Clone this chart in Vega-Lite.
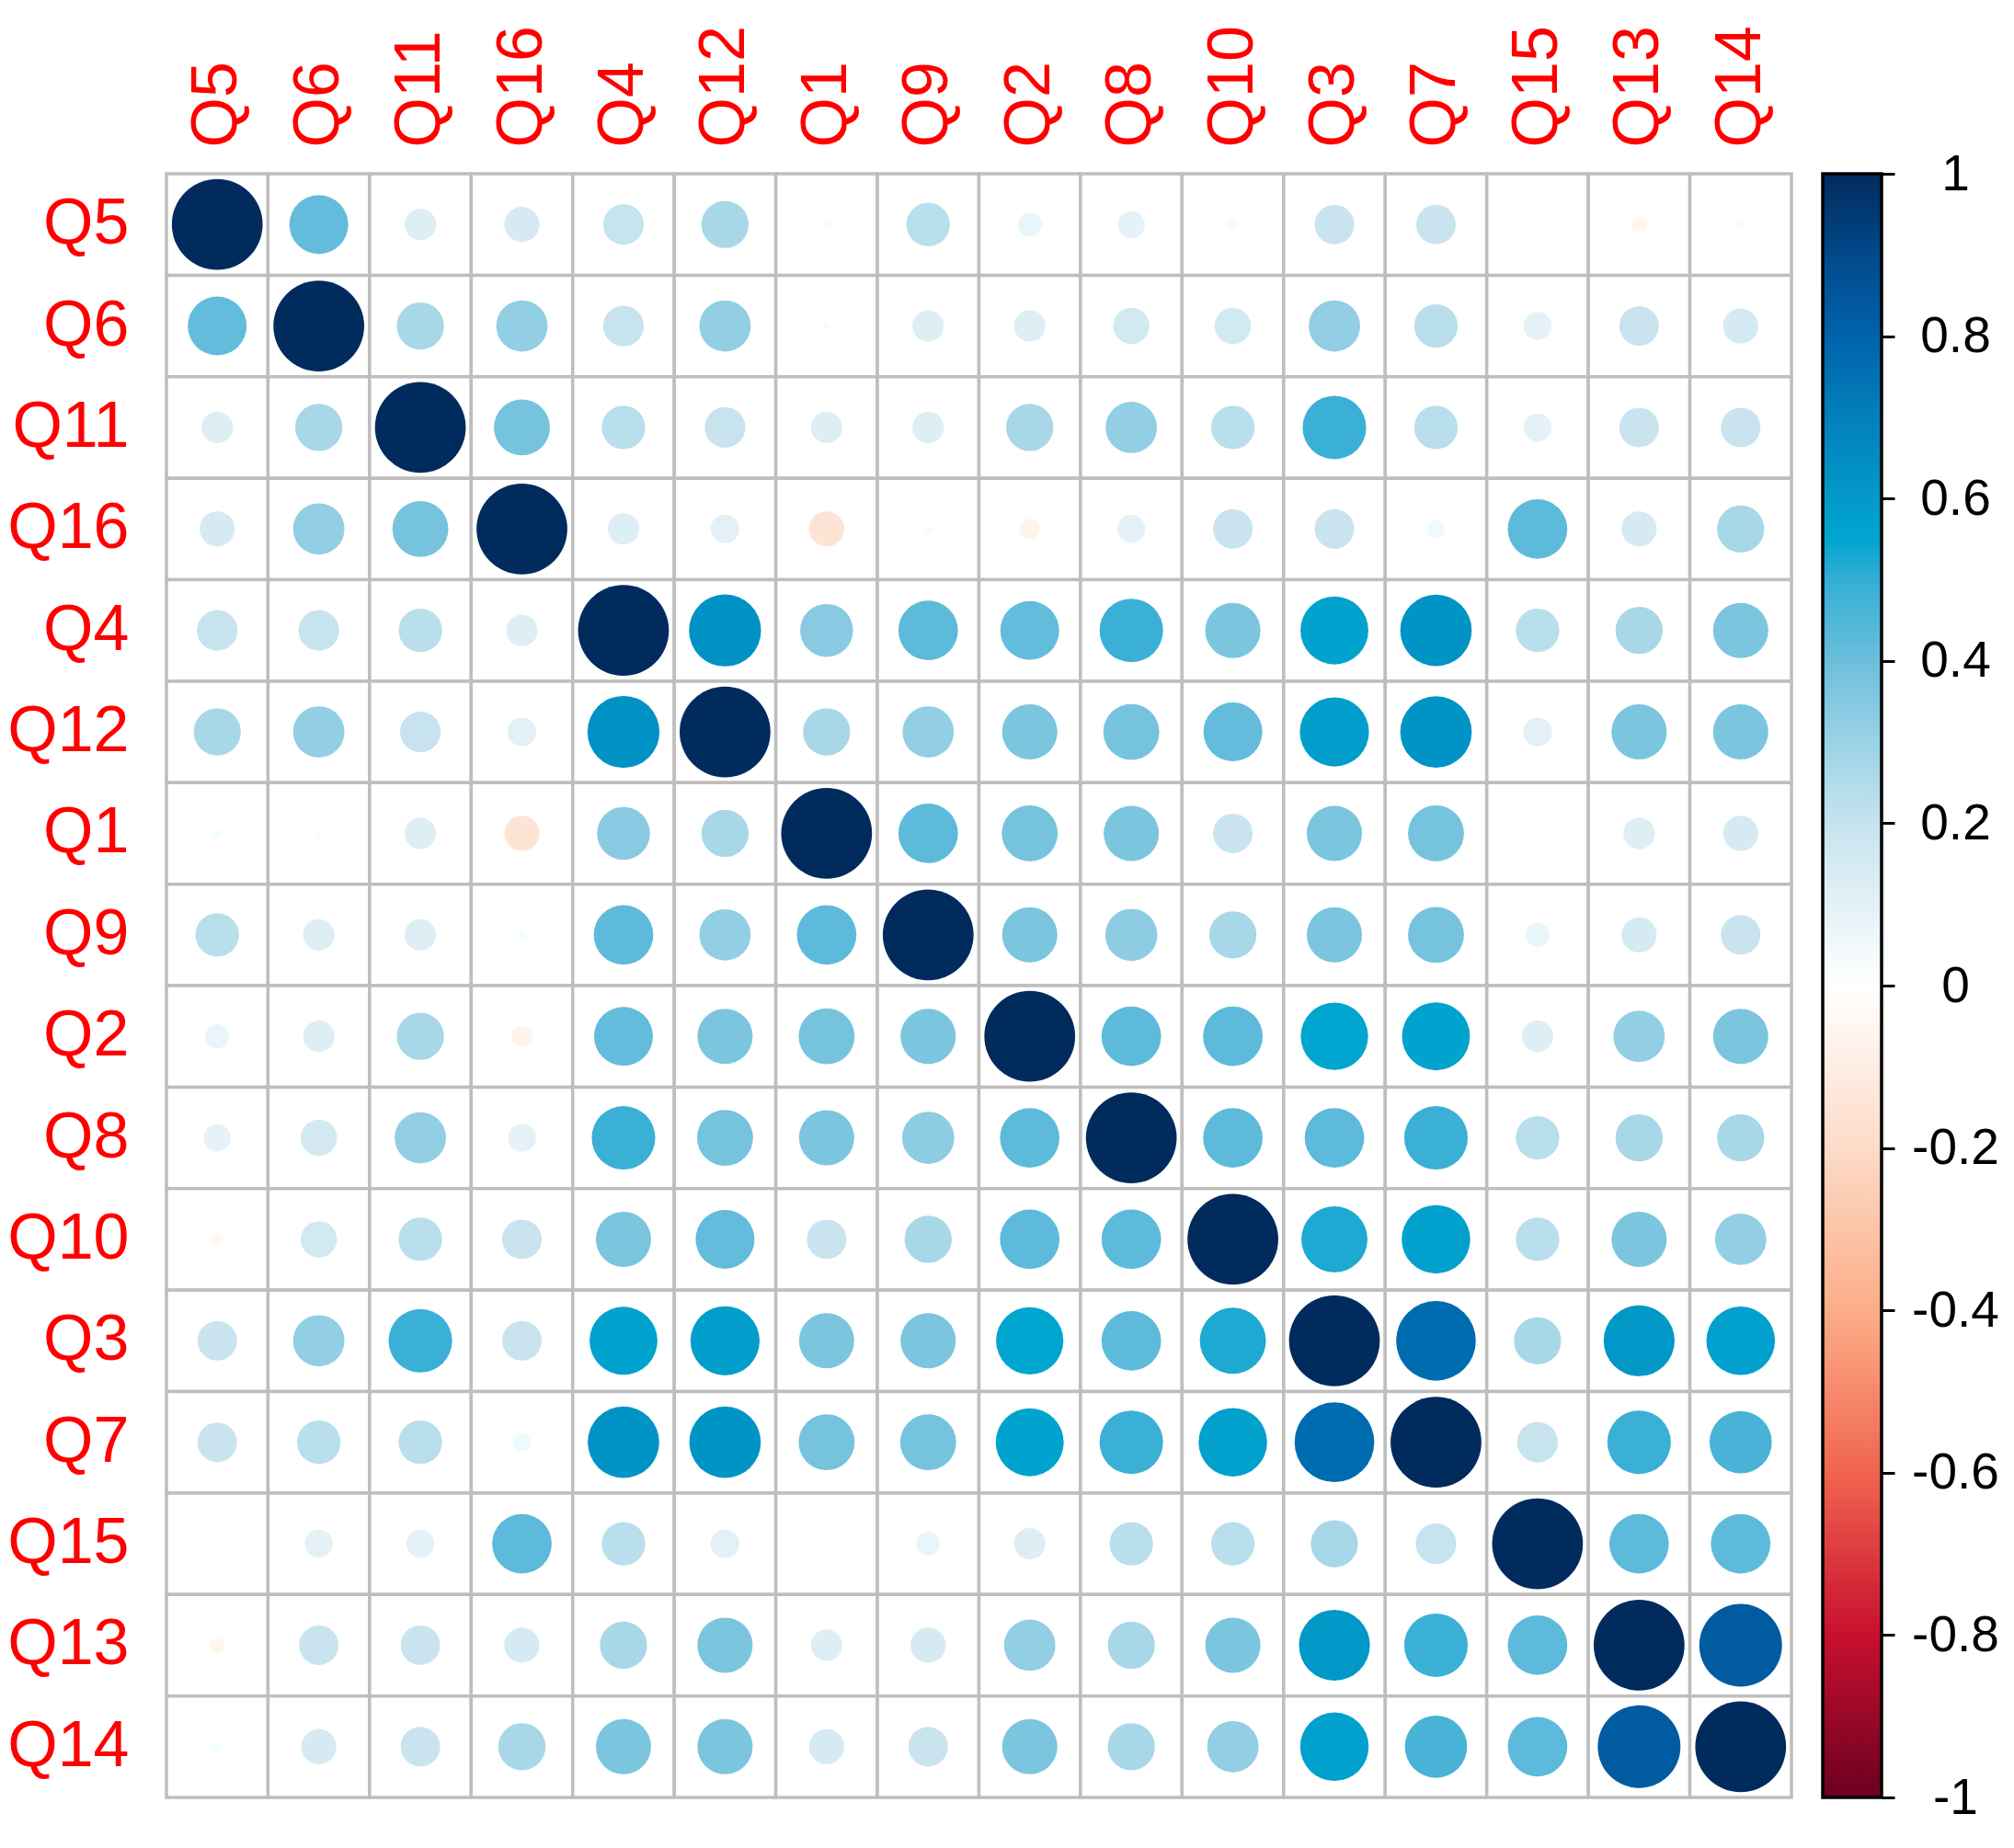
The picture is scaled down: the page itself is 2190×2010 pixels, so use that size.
{
  "$schema": "https://vega.github.io/schema/vega-lite/v6.json",
  "padding": {"left": 7, "top": 27, "right": 0, "bottom": 0},
  "background": "white",
  "spacing": 34,
  "bounds": "flush",
  "hconcat": [
  {
  "width": 1767,
  "height": 1766,
  "data": {"values": [
{"r":"Q5","c":"Q5","v":1},{"r":"Q5","c":"Q6","v":0.42},{"r":"Q5","c":"Q11","v":0.12},{"r":"Q5","c":"Q16","v":0.15},{"r":"Q5","c":"Q4","v":0.2},{"r":"Q5","c":"Q12","v":0.27},{"r":"Q5","c":"Q1","v":0.01},{"r":"Q5","c":"Q9","v":0.23},{"r":"Q5","c":"Q2","v":0.07},{"r":"Q5","c":"Q8","v":0.09},{"r":"Q5","c":"Q10","v":-0.02},{"r":"Q5","c":"Q3","v":0.19},{"r":"Q5","c":"Q7","v":0.19},{"r":"Q5","c":"Q15","v":0},{"r":"Q5","c":"Q13","v":-0.03},{"r":"Q5","c":"Q14","v":0.01},
{"r":"Q6","c":"Q5","v":0.42},{"r":"Q6","c":"Q6","v":1},{"r":"Q6","c":"Q11","v":0.27},{"r":"Q6","c":"Q16","v":0.32},{"r":"Q6","c":"Q4","v":0.2},{"r":"Q6","c":"Q12","v":0.32},{"r":"Q6","c":"Q1","v":0.005},{"r":"Q6","c":"Q9","v":0.12},{"r":"Q6","c":"Q2","v":0.12},{"r":"Q6","c":"Q8","v":0.16},{"r":"Q6","c":"Q10","v":0.16},{"r":"Q6","c":"Q3","v":0.32},{"r":"Q6","c":"Q7","v":0.23},{"r":"Q6","c":"Q15","v":0.095},{"r":"Q6","c":"Q13","v":0.19},{"r":"Q6","c":"Q14","v":0.15},
{"r":"Q11","c":"Q5","v":0.12},{"r":"Q11","c":"Q6","v":0.27},{"r":"Q11","c":"Q11","v":1},{"r":"Q11","c":"Q16","v":0.38},{"r":"Q11","c":"Q4","v":0.23},{"r":"Q11","c":"Q12","v":0.2},{"r":"Q11","c":"Q1","v":0.12},{"r":"Q11","c":"Q9","v":0.12},{"r":"Q11","c":"Q2","v":0.27},{"r":"Q11","c":"Q8","v":0.32},{"r":"Q11","c":"Q10","v":0.23},{"r":"Q11","c":"Q3","v":0.49},{"r":"Q11","c":"Q7","v":0.23},{"r":"Q11","c":"Q15","v":0.095},{"r":"Q11","c":"Q13","v":0.19},{"r":"Q11","c":"Q14","v":0.19},
{"r":"Q16","c":"Q5","v":0.15},{"r":"Q16","c":"Q6","v":0.32},{"r":"Q16","c":"Q11","v":0.38},{"r":"Q16","c":"Q16","v":1},{"r":"Q16","c":"Q4","v":0.12},{"r":"Q16","c":"Q12","v":0.1},{"r":"Q16","c":"Q1","v":-0.15},{"r":"Q16","c":"Q9","v":0.01},{"r":"Q16","c":"Q2","v":-0.05},{"r":"Q16","c":"Q8","v":0.095},{"r":"Q16","c":"Q10","v":0.19},{"r":"Q16","c":"Q3","v":0.19},{"r":"Q16","c":"Q7","v":0.04},{"r":"Q16","c":"Q15","v":0.43},{"r":"Q16","c":"Q13","v":0.15},{"r":"Q16","c":"Q14","v":0.27},
{"r":"Q4","c":"Q5","v":0.2},{"r":"Q4","c":"Q6","v":0.2},{"r":"Q4","c":"Q11","v":0.23},{"r":"Q4","c":"Q16","v":0.12},{"r":"Q4","c":"Q4","v":1},{"r":"Q4","c":"Q12","v":0.63},{"r":"Q4","c":"Q1","v":0.34},{"r":"Q4","c":"Q9","v":0.43},{"r":"Q4","c":"Q2","v":0.42},{"r":"Q4","c":"Q8","v":0.49},{"r":"Q4","c":"Q10","v":0.37},{"r":"Q4","c":"Q3","v":0.56},{"r":"Q4","c":"Q7","v":0.62},{"r":"Q4","c":"Q15","v":0.23},{"r":"Q4","c":"Q13","v":0.27},{"r":"Q4","c":"Q14","v":0.37},
{"r":"Q12","c":"Q5","v":0.27},{"r":"Q12","c":"Q6","v":0.32},{"r":"Q12","c":"Q11","v":0.2},{"r":"Q12","c":"Q16","v":0.1},{"r":"Q12","c":"Q4","v":0.63},{"r":"Q12","c":"Q12","v":1},{"r":"Q12","c":"Q1","v":0.27},{"r":"Q12","c":"Q9","v":0.32},{"r":"Q12","c":"Q2","v":0.37},{"r":"Q12","c":"Q8","v":0.38},{"r":"Q12","c":"Q10","v":0.42},{"r":"Q12","c":"Q3","v":0.58},{"r":"Q12","c":"Q7","v":0.62},{"r":"Q12","c":"Q15","v":0.1},{"r":"Q12","c":"Q13","v":0.37},{"r":"Q12","c":"Q14","v":0.37},
{"r":"Q1","c":"Q5","v":0.01},{"r":"Q1","c":"Q6","v":0.005},{"r":"Q1","c":"Q11","v":0.12},{"r":"Q1","c":"Q16","v":-0.15},{"r":"Q1","c":"Q4","v":0.34},{"r":"Q1","c":"Q12","v":0.27},{"r":"Q1","c":"Q1","v":1},{"r":"Q1","c":"Q9","v":0.43},{"r":"Q1","c":"Q2","v":0.38},{"r":"Q1","c":"Q8","v":0.37},{"r":"Q1","c":"Q10","v":0.19},{"r":"Q1","c":"Q3","v":0.37},{"r":"Q1","c":"Q7","v":0.38},{"r":"Q1","c":"Q15","v":0},{"r":"Q1","c":"Q13","v":0.12},{"r":"Q1","c":"Q14","v":0.15},
{"r":"Q9","c":"Q5","v":0.23},{"r":"Q9","c":"Q6","v":0.12},{"r":"Q9","c":"Q11","v":0.12},{"r":"Q9","c":"Q16","v":0.01},{"r":"Q9","c":"Q4","v":0.43},{"r":"Q9","c":"Q12","v":0.32},{"r":"Q9","c":"Q1","v":0.43},{"r":"Q9","c":"Q9","v":1},{"r":"Q9","c":"Q2","v":0.37},{"r":"Q9","c":"Q8","v":0.33},{"r":"Q9","c":"Q10","v":0.27},{"r":"Q9","c":"Q3","v":0.37},{"r":"Q9","c":"Q7","v":0.38},{"r":"Q9","c":"Q15","v":0.07},{"r":"Q9","c":"Q13","v":0.15},{"r":"Q9","c":"Q14","v":0.19},
{"r":"Q2","c":"Q5","v":0.07},{"r":"Q2","c":"Q6","v":0.12},{"r":"Q2","c":"Q11","v":0.27},{"r":"Q2","c":"Q16","v":-0.05},{"r":"Q2","c":"Q4","v":0.42},{"r":"Q2","c":"Q12","v":0.37},{"r":"Q2","c":"Q1","v":0.38},{"r":"Q2","c":"Q9","v":0.37},{"r":"Q2","c":"Q2","v":1},{"r":"Q2","c":"Q8","v":0.43},{"r":"Q2","c":"Q10","v":0.43},{"r":"Q2","c":"Q3","v":0.55},{"r":"Q2","c":"Q7","v":0.56},{"r":"Q2","c":"Q15","v":0.12},{"r":"Q2","c":"Q13","v":0.32},{"r":"Q2","c":"Q14","v":0.37},
{"r":"Q8","c":"Q5","v":0.09},{"r":"Q8","c":"Q6","v":0.16},{"r":"Q8","c":"Q11","v":0.32},{"r":"Q8","c":"Q16","v":0.095},{"r":"Q8","c":"Q4","v":0.49},{"r":"Q8","c":"Q12","v":0.38},{"r":"Q8","c":"Q1","v":0.37},{"r":"Q8","c":"Q9","v":0.33},{"r":"Q8","c":"Q2","v":0.43},{"r":"Q8","c":"Q8","v":1},{"r":"Q8","c":"Q10","v":0.43},{"r":"Q8","c":"Q3","v":0.43},{"r":"Q8","c":"Q7","v":0.49},{"r":"Q8","c":"Q15","v":0.23},{"r":"Q8","c":"Q13","v":0.27},{"r":"Q8","c":"Q14","v":0.27},
{"r":"Q10","c":"Q5","v":-0.02},{"r":"Q10","c":"Q6","v":0.16},{"r":"Q10","c":"Q11","v":0.23},{"r":"Q10","c":"Q16","v":0.19},{"r":"Q10","c":"Q4","v":0.37},{"r":"Q10","c":"Q12","v":0.42},{"r":"Q10","c":"Q1","v":0.19},{"r":"Q10","c":"Q9","v":0.27},{"r":"Q10","c":"Q2","v":0.43},{"r":"Q10","c":"Q8","v":0.43},{"r":"Q10","c":"Q10","v":1},{"r":"Q10","c":"Q3","v":0.53},{"r":"Q10","c":"Q7","v":0.57},{"r":"Q10","c":"Q15","v":0.23},{"r":"Q10","c":"Q13","v":0.37},{"r":"Q10","c":"Q14","v":0.32},
{"r":"Q3","c":"Q5","v":0.19},{"r":"Q3","c":"Q6","v":0.32},{"r":"Q3","c":"Q11","v":0.49},{"r":"Q3","c":"Q16","v":0.19},{"r":"Q3","c":"Q4","v":0.56},{"r":"Q3","c":"Q12","v":0.58},{"r":"Q3","c":"Q1","v":0.37},{"r":"Q3","c":"Q9","v":0.37},{"r":"Q3","c":"Q2","v":0.55},{"r":"Q3","c":"Q8","v":0.43},{"r":"Q3","c":"Q10","v":0.53},{"r":"Q3","c":"Q3","v":1},{"r":"Q3","c":"Q7","v":0.77},{"r":"Q3","c":"Q15","v":0.27},{"r":"Q3","c":"Q13","v":0.61},{"r":"Q3","c":"Q14","v":0.57},
{"r":"Q7","c":"Q5","v":0.19},{"r":"Q7","c":"Q6","v":0.23},{"r":"Q7","c":"Q11","v":0.23},{"r":"Q7","c":"Q16","v":0.04},{"r":"Q7","c":"Q4","v":0.62},{"r":"Q7","c":"Q12","v":0.62},{"r":"Q7","c":"Q1","v":0.38},{"r":"Q7","c":"Q9","v":0.38},{"r":"Q7","c":"Q2","v":0.56},{"r":"Q7","c":"Q8","v":0.49},{"r":"Q7","c":"Q10","v":0.57},{"r":"Q7","c":"Q3","v":0.77},{"r":"Q7","c":"Q7","v":1},{"r":"Q7","c":"Q15","v":0.2},{"r":"Q7","c":"Q13","v":0.49},{"r":"Q7","c":"Q14","v":0.47},
{"r":"Q15","c":"Q5","v":0},{"r":"Q15","c":"Q6","v":0.095},{"r":"Q15","c":"Q11","v":0.095},{"r":"Q15","c":"Q16","v":0.43},{"r":"Q15","c":"Q4","v":0.23},{"r":"Q15","c":"Q12","v":0.1},{"r":"Q15","c":"Q1","v":0},{"r":"Q15","c":"Q9","v":0.07},{"r":"Q15","c":"Q2","v":0.12},{"r":"Q15","c":"Q8","v":0.23},{"r":"Q15","c":"Q10","v":0.23},{"r":"Q15","c":"Q3","v":0.27},{"r":"Q15","c":"Q7","v":0.2},{"r":"Q15","c":"Q15","v":1},{"r":"Q15","c":"Q13","v":0.43},{"r":"Q15","c":"Q14","v":0.43},
{"r":"Q13","c":"Q5","v":-0.03},{"r":"Q13","c":"Q6","v":0.19},{"r":"Q13","c":"Q11","v":0.19},{"r":"Q13","c":"Q16","v":0.15},{"r":"Q13","c":"Q4","v":0.27},{"r":"Q13","c":"Q12","v":0.37},{"r":"Q13","c":"Q1","v":0.12},{"r":"Q13","c":"Q9","v":0.15},{"r":"Q13","c":"Q2","v":0.32},{"r":"Q13","c":"Q8","v":0.27},{"r":"Q13","c":"Q10","v":0.37},{"r":"Q13","c":"Q3","v":0.61},{"r":"Q13","c":"Q7","v":0.49},{"r":"Q13","c":"Q15","v":0.43},{"r":"Q13","c":"Q13","v":1},{"r":"Q13","c":"Q14","v":0.83},
{"r":"Q14","c":"Q5","v":0.01},{"r":"Q14","c":"Q6","v":0.15},{"r":"Q14","c":"Q11","v":0.19},{"r":"Q14","c":"Q16","v":0.27},{"r":"Q14","c":"Q4","v":0.37},{"r":"Q14","c":"Q12","v":0.37},{"r":"Q14","c":"Q1","v":0.15},{"r":"Q14","c":"Q9","v":0.19},{"r":"Q14","c":"Q2","v":0.37},{"r":"Q14","c":"Q8","v":0.27},{"r":"Q14","c":"Q10","v":0.32},{"r":"Q14","c":"Q3","v":0.57},{"r":"Q14","c":"Q7","v":0.47},{"r":"Q14","c":"Q15","v":0.43},{"r":"Q14","c":"Q13","v":0.83},{"r":"Q14","c":"Q14","v":1}
  ]},
  "encoding": {
    "x": {"field": "c", "type": "nominal", "sort": ["Q5","Q6","Q11","Q16","Q4","Q12","Q1","Q9","Q2","Q8","Q10","Q3","Q7","Q15","Q13","Q14"],
          "scale": {"paddingInner": 0, "paddingOuter": 0},
          "axis": {"orient": "top", "title": null, "labelAngle": -90, "labelPadding": 29, "domain": false, "ticks": false, "labelFontSize": 70, "labelFont": "Liberation Sans", "labelColor": "#FF0000", "labelOverlap": false}},
    "y": {"field": "r", "type": "nominal", "sort": ["Q5","Q6","Q11","Q16","Q4","Q12","Q1","Q9","Q2","Q8","Q10","Q3","Q7","Q15","Q13","Q14"],
          "scale": {"paddingInner": 0, "paddingOuter": 0},
          "axis": {"orient": "left", "title": null, "labelPadding": 41, "domain": false, "ticks": false, "labelFontSize": 70, "labelFont": "Liberation Sans", "labelColor": "#FF0000", "labelOverlap": false}}
  },
  "layer": [
    {"mark": {"type": "rect", "fill": "white", "stroke": "#BEBEBE", "strokeWidth": 3.5}},
    {"mark": {"type": "point", "filled": true, "shape": "circle", "opacity": 1, "strokeWidth": 0},
     "encoding": {
       "size": {"field": "v", "type": "quantitative", "scale": {"type": "linear", "domain": [-1, 0, 1], "range": [9750, 0, 9750]}, "legend": null},
       "color": {"field": "v", "type": "quantitative",
         "scale": {"type": "linear",
           "domain": [-1, -0.8, -0.6, -0.4, -0.2, -0.1, 0, 0.1, 0.2, 0.3, 0.4, 0.5, 0.55, 0.6, 0.7, 0.8, 0.9, 1],
           "range": ["#6B0020", "#C8102E", "#F0654F", "#FBAD87", "#FDDBC8", "#FEEDE3", "#FFFFFF", "#E3F1F6", "#C6E3EE", "#9BD2E6", "#6CBFDC", "#33AED5", "#00A5D0", "#0399C8", "#0380BB", "#0063AB", "#02498A", "#012B5D"]},
         "legend": null}
     }}
  ]
  },
  {
    "width": 64,
    "height": 1766,
    "data": {"values": [{"lo": -1, "hi": 1}]},
    "mark": {"type": "rect", "stroke": "black", "strokeWidth": 3.5,
      "fill": {"gradient": "linear", "x1": 0, "y1": 1, "x2": 0, "y2": 0,
        "stops": [
          {"offset": 0, "color": "#6B0020"}, {"offset": 0.1, "color": "#C8102E"}, {"offset": 0.2, "color": "#F0654F"},
          {"offset": 0.3, "color": "#FBAD87"}, {"offset": 0.4, "color": "#FDDBC8"}, {"offset": 0.45, "color": "#FEEDE3"},
          {"offset": 0.5, "color": "#FFFFFF"}, {"offset": 0.55, "color": "#E3F1F6"}, {"offset": 0.6, "color": "#C6E3EE"},
          {"offset": 0.65, "color": "#9BD2E6"}, {"offset": 0.7, "color": "#6CBFDC"}, {"offset": 0.75, "color": "#33AED5"},
          {"offset": 0.775, "color": "#00A5D0"}, {"offset": 0.8, "color": "#0399C8"}, {"offset": 0.85, "color": "#0380BB"},
          {"offset": 0.9, "color": "#0063AB"}, {"offset": 0.95, "color": "#02498A"}, {"offset": 1, "color": "#012B5D"}
        ]}},
    "encoding": {
      "y": {"field": "lo", "type": "quantitative",
        "scale": {"domain": [-1, 1], "nice": false, "zero": false},
        "axis": {"orient": "right", "title": null, "grid": false, "domain": false,
          "values": [-1, -0.8, -0.6, -0.4, -0.2, 0, 0.2, 0.4, 0.6, 0.8, 1],
          "ticks": true, "tickColor": "black", "tickSize": 14, "tickWidth": 3,
          "labelFontSize": 55, "labelFont": "Liberation Sans", "labelColor": "black",
          "labelAlign": "center", "labelBaseline": "middle", "labelPadding": 66, "labelOverlap": false, "labelFlush": false,
          "labelExpr": "replace(format(datum.value, '~g'), '\u2212', '-')"}},
      "y2": {"field": "hi"}
    }
  }
  ],
  "config": {"view": {"stroke": null}}
}
